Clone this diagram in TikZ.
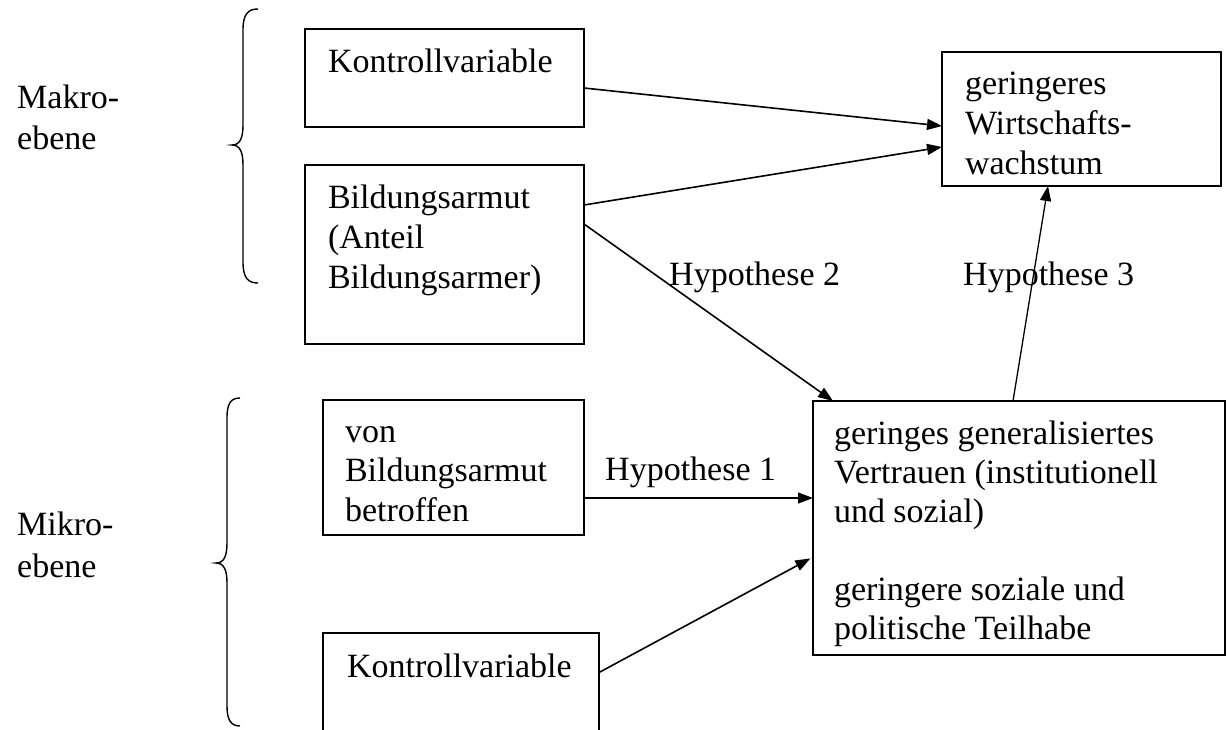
\documentclass[tikz,border=0pt]{standalone}
\usepackage{fontspec}
\setmainfont{Liberation Serif}
\usetikzlibrary{arrows.meta}
% width, height, left indent, top gap, baselineskip, text
\newcommand\tbox[6]{\parbox[c][#2pt][t]{#1pt}{\raggedright\leftskip=#3pt\relax\baselineskip=#5pt\relax\vspace*{#4pt}\rule{0pt}{30pt}#6\par}}
\begin{document}
\begin{tikzpicture}[x=1pt,y=-1pt,
  box/.style={draw, line width=1.8pt, inner sep=0pt, outer sep=0pt, anchor=north west, font=\fontsize{34}{40}\selectfont},
  lab/.style={inner sep=0pt, anchor=north west, font=\fontsize{34}{41}\selectfont},
  hyp/.style={inner sep=0pt, anchor=base west, font=\fontsize{34}{40}\selectfont},
  arr/.style={-{Triangle[length=15pt,width=11pt]}, line width=1.6pt},
  thinarr/.style={-{Triangle[length=15pt,width=11pt]}, line width=1.3pt},
  brace/.style={line width=1.4pt}]
\useasboundingbox (0,0) rectangle (1227,729);

% level labels
\node[lab] (makro) at (17,78) {\tbox{120}{90}{0}{0}{41}{Makro-\\ebene}};
\node[lab] (mikro) at (17,505) {\tbox{120}{90}{0}{0}{42}{Mikro-\\ebene}};

% braces
\draw[brace] (258,9) .. controls (248,9) and (243,14) .. (243,30) -- (243,125)
  .. controls (243,138) and (240,145) .. (232,145)
  .. controls (240,145) and (243,152) .. (243,165) -- (243,262)
  .. controls (243,278) and (248,283) .. (258,283);
\draw[brace] (240,398) .. controls (231,398) and (227,403) .. (227,418) -- (227,543)
  .. controls (227,556) and (224,563) .. (216,563)
  .. controls (224,563) and (227,570) .. (227,583) -- (227,706)
  .. controls (227,720) and (231,726) .. (240,726);

% boxes
\node[box] (k1) at (305,29) {\tbox{279}{98}{23}{13}{40}{Kontrollvariable}};
\node[box] (ba) at (305,165) {\tbox{279}{179}{23}{13}{40}{Bildungsarmut\\(Anteil\\Bildungsarmer)}};
\node[box] (ww) at (942,52) {\tbox{279}{134}{23}{12}{40}{geringeres\\Wirtschafts-\\wachstum}};
\node[box] (vb) at (323,400) {\tbox{261}{135}{22}{12}{39.5}{von\\Bildungsarmut\\betroffen}};
\node[box] (k2) at (323,633) {\tbox{276}{115}{24}{14}{40}{Kontrollvariable}};
\node[box] (vt) at (813,401) {\tbox{412}{254}{21}{13}{39}{geringes generalisiertes\\Vertrauen (institutionell\\und sozial)\\[39pt]geringere soziale und\\politische Teilhabe}};

% hypothesis labels
\node[hyp] (h1) at (605,480) {Hypothese 1};
\node[hyp] (h2) at (669,285) {Hypothese 2};
\node[hyp] (h3) at (963,285) {Hypothese 3};

% connectors
\draw[arr] ([yshift=-10pt]k1.east) -- ([yshift=-7pt]ww.west);
\draw[arr] ([yshift=49.5pt]ba.east) -- ([yshift=-28pt]ww.west);
\draw[arr] ([yshift=30.5pt]ba.east) -- ([xshift=20pt]vt.north west);
\draw[thinarr] ([xshift=-6pt]vt.north) -- ([xshift=-33.5pt]ww.south);
\draw[thinarr] ([yshift=-30.5pt]vb.east) -- ([yshift=30pt]vt.west);
\draw[arr, shorten >=3pt] ([yshift=18pt]k2.east) -- ([yshift=-29pt]vt.west);
\end{tikzpicture}
\end{document}
